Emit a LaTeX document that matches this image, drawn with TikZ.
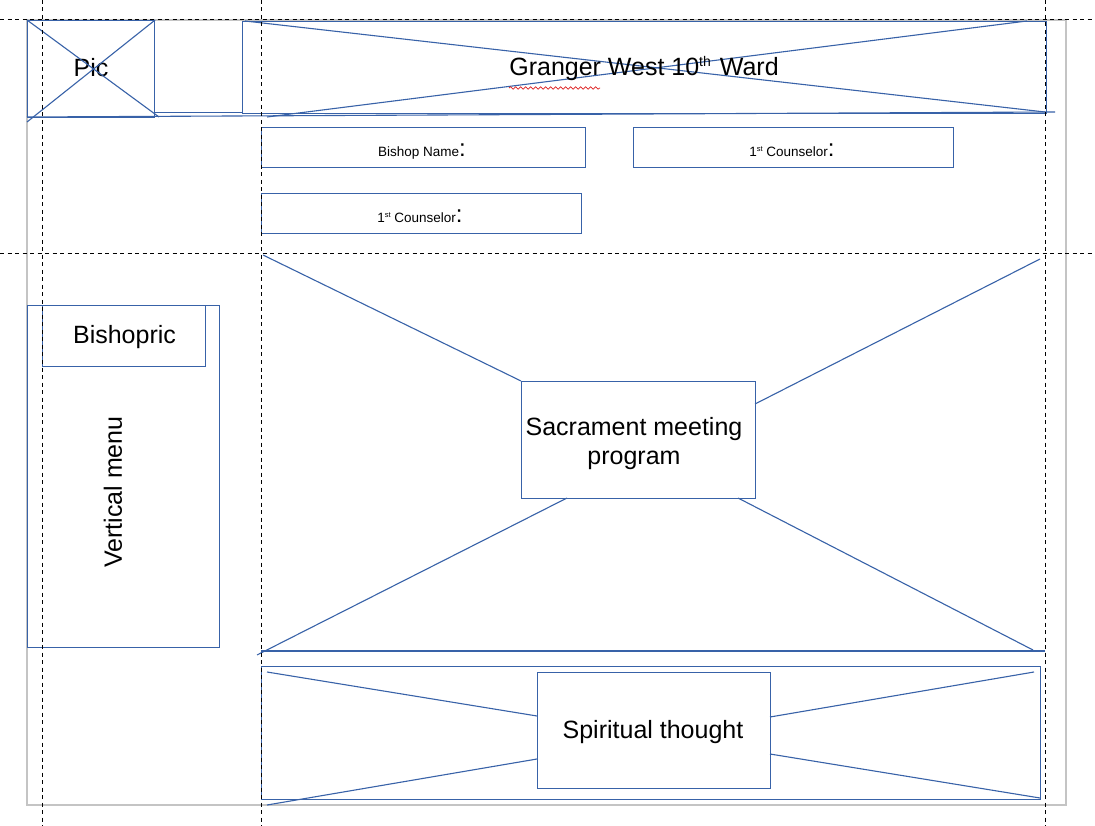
\documentclass[tikz,border=0pt]{standalone}
\usepackage{fontspec}
\setmainfont{Liberation Sans}
\usetikzlibrary{decorations.pathmorphing}
\definecolor{lineblue}{RGB}{56,98,168}
\definecolor{pagegray}{RGB}{196,196,196}
\definecolor{squig}{RGB}{220,30,30}
\tikzset{
  box/.style={draw=lineblue, line width=1.1pt, rectangle, inner sep=0pt, anchor=north west, text=black},
  guide/.style={draw=black, line width=1pt, dash pattern=on 4pt off 3.5pt},
  xline/.style={draw=lineblue, line width=1.1pt},
  bigtxt/.style={font=\fontsize{25}{29}\selectfont, inner sep=0pt, anchor=base},
  smalltxt/.style={font=\fontsize{13.5}{16}\selectfont, inner sep=0pt, anchor=base},
}
\newcommand{\bigcolon}{{\fontsize{24}{24}\selectfont:}}
\newcommand{\bigsup}[1]{\raisebox{9pt}{\fontsize{14}{14}\selectfont #1}}
\newcommand{\smallsup}[1]{\raisebox{5pt}{\fontsize{7.5}{8}\selectfont #1}}
\begin{document}
\begin{tikzpicture}[x=1pt,y=-1pt]
\useasboundingbox (0,0) rectangle (1095,826);
\fill[white] (0,0) rectangle (1095,826);
% page border
\draw[pagegray, line width=1.2pt] (27,20) rectangle (1066,805);

% Pic box
\node[box, minimum width=127pt, minimum height=97pt] (pic) at (27,20) {};
\node[bigtxt] (pictxt) at (91,77) {Pic};
\coordinate (picA) at (159,117);
\coordinate (picB) at (27,122);
\draw[xline] (pic.north west) -- (picA);
\draw[xline] (pic.north east) -- (picB);
\coordinate (hl1) at (154,112);
\coordinate (hl2) at (242,112);
\draw[xline, line width=0.8pt] (hl1) -- (hl2);
\coordinate (longL) at (27,117);
\coordinate (longR) at (1055,112);
\draw[xline] (longL) -- (longR);

% Title box
\node[box, minimum width=804pt, minimum height=92pt] (title) at (242,21) {};
\coordinate (tA) at (245,21);
\coordinate (tB) at (1045,112);
\coordinate (tC) at (267,117);
\coordinate (tD) at (1027,21);
\draw[xline] (tA) -- (tB);
\draw[xline] (tC) -- (tD);
\node[bigtxt] (titletxt) at (644,76) {Granger West 10\bigsup{th}\hspace{2pt} Ward};
\coordinate (sq1) at (509,88);
\coordinate (sq2) at (600,88);
\draw[squig, line width=0.7pt, decorate, decoration={snake, amplitude=1.2pt, segment length=5pt}] (sq1) -- (sq2);

% name boxes
\node[box, minimum width=324pt, minimum height=40pt] (bishop) at (261,127) {};
\node[smalltxt] (bishoptxt) at (422,157) {Bishop Name\bigcolon};
\node[box, minimum width=320pt, minimum height=40pt] (couns1) at (633,127) {};
\node[smalltxt] (couns1txt) at (792,157) {1\smallsup{st} Counselor\bigcolon};
\node[box, minimum width=320pt, minimum height=40pt] (couns2) at (261,193) {};
\node[smalltxt] (couns2txt) at (420,223) {1\smallsup{st} Counselor\bigcolon};

% Bishopric / vertical menu
\node[box, minimum width=192pt, minimum height=342pt] (menu) at (27,305) {};
\node[box, minimum width=163pt, minimum height=61pt] (bishopric) at (42,305) {};
\node[bigtxt] (bishoprictxt) at (124.5,343.5) {Bishopric};
\node[font=\fontsize{25}{29}\selectfont, inner sep=0pt, rotate=90] (vmenu) at (113,492) {Vertical menu};

% Sacrament meeting program
\node[box, minimum width=234pt, minimum height=117pt] (sac) at (521,381) {};
\node[font=\fontsize{25}{29}\selectfont, inner sep=0pt, align=center, anchor=north] (sactxt) at (634,417.5) {Sacrament meeting\\program};
\coordinate (sA) at (263,255);
\coordinate (sB) at (1040,259);
\coordinate (sC) at (257,655);
\coordinate (sD) at (1033,650);
\coordinate (sE) at (567,498);
\coordinate (sF) at (738,498);
\coordinate (sG) at (755,404);
\draw[xline] (sA) -- (sac.north west);
\draw[xline] (sB) -- (sG);
\draw[xline] (sE) -- (sC);
\draw[xline] (sF) -- (sD);
\coordinate (hlA) at (261,651);
\coordinate (hlB) at (1045,651);
\draw[xline] (hlA) -- (hlB);

% Spiritual thought
\node[box, minimum width=779pt, minimum height=133pt] (spirit) at (261,666) {};
\node[box, minimum width=233pt, minimum height=116pt] (thought) at (537,672) {};
\node[bigtxt] (thoughttxt) at (653,738) {Spiritual thought};
\coordinate (pA) at (267,672);
\coordinate (pB) at (1034,672);
\coordinate (pC) at (267,805);
\coordinate (pD) at (1040,798);
\coordinate (pE) at (537,716);
\coordinate (pF) at (770,717);
\coordinate (pG) at (537,759);
\coordinate (pH) at (770,754);
\draw[xline] (pA) -- (pE);
\draw[xline] (pB) -- (pF);
\draw[xline] (pG) -- (pC);
\draw[xline] (pH) -- (pD);

% guide lines
\coordinate (g1a) at (0,20);   \coordinate (g1b) at (1095,20);
\coordinate (g2a) at (0,254);  \coordinate (g2b) at (1095,254);
\coordinate (g3a) at (42,0);   \coordinate (g3b) at (42,826);
\coordinate (g4a) at (261,0);  \coordinate (g4b) at (261,826);
\coordinate (g5a) at (1045,0); \coordinate (g5b) at (1045,826);
\draw[guide] (g1a) -- (g1b);
\draw[guide] (g2a) -- (g2b);
\draw[guide] (g3a) -- (g3b);
\draw[guide] (g4a) -- (g4b);
\draw[guide] (g5a) -- (g5b);
\end{tikzpicture}
\end{document}
